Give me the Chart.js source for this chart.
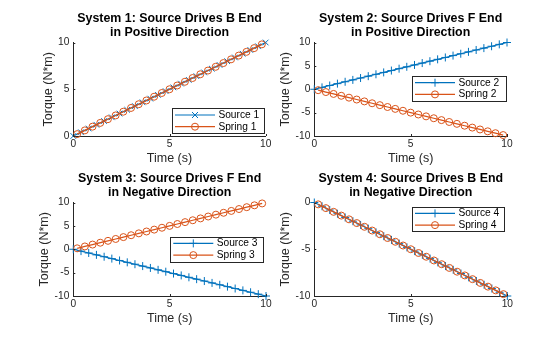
<!DOCTYPE html>
<html>
<head>
<meta charset="utf-8">
<title>Torque of source and spring</title>
<script src="https://cdn.jsdelivr.net/npm/chart.js@4/dist/chart.umd.min.js"></script>
<style>
    html, body { margin: 0; padding: 0; background: #fff; }
    #fig { position: relative; width: 560px; height: 337px; overflow: hidden; }
    .panel { position: absolute; width: 280px; height: 170px; }
</style>
</head>
<body>
<div id="fig">
    <div class="panel" style="left:0px;top:0px"><canvas id="c1" width="280" height="170"></canvas></div>
    <div class="panel" style="left:280px;top:0px"><canvas id="c2" width="280" height="170"></canvas></div>
    <div class="panel" style="left:0px;top:160px"><canvas id="c3" width="280" height="170"></canvas></div>
    <div class="panel" style="left:280px;top:160px"><canvas id="c4" width="280" height="170"></canvas></div>
</div>
<script>
// サンプル時刻 (s)
const sourceTime = [0, 0.4, 0.8, 1.2, 1.6, 2.0, 2.4, 2.8, 3.2, 3.6, 4.0, 4.4, 4.8, 5.2, 5.6, 6.0, 6.4, 6.8, 7.2, 7.6, 8.0, 8.4, 8.8, 9.2, 9.6, 10];
const springTime = [0.2, 0.6, 1.0, 1.4, 1.8, 2.2, 2.6, 3.0, 3.4, 3.8, 4.2, 4.6, 5.0, 5.4, 5.8, 6.2, 6.6, 7.0, 7.4, 7.8, 8.2, 8.6, 9.0, 9.4, 9.8];

// トルク (N*m)
const sourceUp   = [0, 0.4, 0.8, 1.2, 1.6, 2.0, 2.4, 2.8, 3.2, 3.6, 4.0, 4.4, 4.8, 5.2, 5.6, 6.0, 6.4, 6.8, 7.2, 7.6, 8.0, 8.4, 8.8, 9.2, 9.6, 10];
const sourceDown = [0, -0.4, -0.8, -1.2, -1.6, -2.0, -2.4, -2.8, -3.2, -3.6, -4.0, -4.4, -4.8, -5.2, -5.6, -6.0, -6.4, -6.8, -7.2, -7.6, -8.0, -8.4, -8.8, -9.2, -9.6, -10];
const springUp   = [0.2, 0.6, 1.0, 1.4, 1.8, 2.2, 2.6, 3.0, 3.4, 3.8, 4.2, 4.6, 5.0, 5.4, 5.8, 6.2, 6.6, 7.0, 7.4, 7.8, 8.2, 8.6, 9.0, 9.4, 9.8];
const springDown = [-0.2, -0.6, -1.0, -1.4, -1.8, -2.2, -2.6, -3.0, -3.4, -3.8, -4.2, -4.6, -5.0, -5.4, -5.8, -6.2, -6.6, -7.0, -7.4, -7.8, -8.2, -8.6, -9.0, -9.4, -9.8];

const panelTitles = [
    ['System 1: Source Drives B End', 'in Positive Direction'],
    ['System 2: Source Drives F End', 'in Positive Direction'],
    ['System 3: Source Drives F End', 'in Negative Direction'],
    ['System 4: Source Drives B End', 'in Negative Direction']
];
const sourceLabels = ['Source 1', 'Source 2', 'Source 3', 'Source 4'];
const springLabels = ['Spring 1', 'Spring 2', 'Spring 3', 'Spring 4'];
const sourceSeries = [sourceUp, sourceUp, sourceDown, sourceDown];
const springSeries = [springUp, springDown, springUp, springDown];
const yRanges = [[0, 10], [-10, 10], [-10, 10], [-10, 0]];
const timeTicks = [0, 5, 10];

const BLUE = '#0072BD';
const ORANGE = '#D95319';
const AXIS = '#262626';

Chart.defaults.font.family = '"Liberation Sans", Arial, Helvetica, sans-serif';
Chart.defaults.color = AXIS;

// 各パネルの配置 (キャンバス内座標)
const layouts = [
    { left: 73.3, right: 265.7, bottom: 136, yw: 32.5, marker: 'crossRot', legend: { x: 171.7, y: 108.3, w: 91.6, h: 25 } },
    { left: 34.3, right: 227,   bottom: 136, yw: 36.2, marker: 'cross',    legend: { x: 131.7, y: 76,    w: 94,   h: 25 } },
    { left: 73.3, right: 266,   bottom: 136, yw: 36.7, marker: 'cross',    legend: { x: 170,   y: 76.7,  w: 93.3, h: 25 } },
    { left: 34.3, right: 227.3, bottom: 136, yw: 36.2, marker: 'cross',    legend: { x: 131.7, y: 46.7,  w: 91.6, h: 24 } }
];

// マーカーを描く
function drawMarker(ctx, style, x, y, r, color) {
    ctx.save();
    ctx.strokeStyle = color;
    ctx.lineWidth = 1;
    ctx.beginPath();
    if (style === 'circle') {
        ctx.arc(x, y, r, 0, Math.PI * 2);
    } else if (style === 'cross') {
        ctx.moveTo(x - r, y); ctx.lineTo(x + r, y);
        ctx.moveTo(x, y - r); ctx.lineTo(x, y + r);
    } else {
        const d = r * 0.75;
        ctx.moveTo(x - d, y - d); ctx.lineTo(x + d, y + d);
        ctx.moveTo(x - d, y + d); ctx.lineTo(x + d, y - d);
    }
    ctx.stroke();
    ctx.restore();
}

// 内向きの目盛り
const innerTicks = {
    id: 'innerTicks',
    afterDraw(chart) {
        const ctx = chart.ctx;
        const a = chart.chartArea;
        ctx.save();
        ctx.strokeStyle = AXIS;
        ctx.lineWidth = 1;
        ctx.beginPath();
        chart.scales.x.ticks.forEach(t => {
            const px = Math.round(chart.scales.x.getPixelForValue(t.value)) + 0.5;
            ctx.moveTo(px, a.bottom);
            ctx.lineTo(px, a.bottom - 2);
        });
        chart.scales.y.ticks.forEach(t => {
            const py = Math.round(chart.scales.y.getPixelForValue(t.value)) + 0.5;
            ctx.moveTo(a.left, py);
            ctx.lineTo(a.left + 2, py);
        });
        ctx.stroke();
        ctx.restore();
    }
};

// MATLAB風の凡例
const boxLegend = {
    id: 'boxLegend',
    afterDraw(chart, args, opts) {
        const b = opts.box;
        if (!b) return;
        const ctx = chart.ctx;
        ctx.save();
        ctx.fillStyle = '#fff';
        ctx.fillRect(b.x, b.y, b.w, b.h);
        ctx.strokeStyle = AXIS;
        ctx.lineWidth = 1;
        ctx.strokeRect(Math.round(b.x) + 0.5, Math.round(b.y) + 0.5, Math.round(b.w), Math.round(b.h));
        chart.data.datasets.forEach((ds, i) => {
            const y = b.y + 6.7 + i * 11.7;
            ctx.strokeStyle = ds.borderColor;
            ctx.lineWidth = ds.borderWidth;
            ctx.beginPath();
            ctx.moveTo(b.x + 3.3, y);
            ctx.lineTo(b.x + 43.3, y);
            ctx.stroke();
            drawMarker(ctx, ds.pointStyle, b.x + 23.3, y, ds.pointRadius, ds.borderColor);
            ctx.fillStyle = '#000';
            ctx.font = '10.2px "Liberation Sans", Arial, sans-serif';
            ctx.textBaseline = 'middle';
            ctx.textAlign = 'left';
            ctx.fillText(ds.label, b.x + 46.7, y);
        });
        ctx.restore();
    }
};

function toPoints(xs, ys) {
    return xs.map((x, i) => ({ x: x, y: ys[i] }));
}

function makePanel(i) {
    const L = layouts[i];
    new Chart(document.getElementById('c' + (i + 1)), {
        type: 'line',
        data: {
            datasets: [{
                label: sourceLabels[i],
                data: toPoints(sourceTime, sourceSeries[i]),
                borderColor: BLUE,
                borderWidth: 1.2,
                pointStyle: L.marker,
                pointRadius: 4,
                pointBorderColor: BLUE,
                pointBorderWidth: 1,
                pointBackgroundColor: 'rgba(0,0,0,0)',
                order: 2,
                clip: false
            }, {
                label: springLabels[i],
                data: toPoints(springTime, springSeries[i]),
                borderColor: ORANGE,
                borderWidth: 1.2,
                pointStyle: 'circle',
                pointRadius: 3.5,
                pointBorderColor: ORANGE,
                pointBorderWidth: 1,
                pointBackgroundColor: 'rgba(0,0,0,0)',
                order: 1,
                clip: false
            }]
        },
        options: {
            responsive: false,
            animation: false,
            events: [],
            layout: {
                padding: { left: L.left - L.yw, right: 280 - L.right, top: 11, bottom: 170 - L.bottom - 30 }
            },
            plugins: {
                legend: { display: false },
                tooltip: { enabled: false },
                title: {
                    display: true,
                    text: panelTitles[i],
                    fullSize: false,
                    color: '#000',
                    font: { size: 12.4, weight: 'bold', lineHeight: '14.5px' },
                    padding: { top: 0, bottom: 2.5 }
                },
                boxLegend: { box: L.legend }
            },
            scales: {
                x: {
                    type: 'linear',
                    min: 0,
                    max: 10,
                    afterBuildTicks: s => { s.ticks = timeTicks.map(v => ({ value: v })); },
                    ticks: { padding: 2, maxRotation: 0, font: { size: 10.2 }, color: AXIS },
                    grid: { display: false, drawTicks: false },
                    border: { display: true, color: AXIS, width: 1 },
                    title: { display: true, text: 'Time (s)', font: { size: 12.5 }, color: AXIS, padding: 0 },
                    afterFit: s => { s.height = 30; }
                },
                y: {
                    type: 'linear',
                    min: yRanges[i][0],
                    max: yRanges[i][1],
                    ticks: { stepSize: 5, padding: 4, font: { size: 10.2 }, color: AXIS },
                    grid: { display: false, drawTicks: false },
                    border: { display: true, color: AXIS, width: 1 },
                    title: { display: true, text: 'Torque (N*m)', font: { size: 12.5 }, color: AXIS, padding: 0 },
                    afterFit: s => { s.width = L.yw; }
                }
            }
        },
        plugins: [innerTicks, boxLegend]
    });
}

document.addEventListener('DOMContentLoaded', function() {
    for (let i = 0; i < 4; i++) makePanel(i);
});
</script>
</body>
</html>
